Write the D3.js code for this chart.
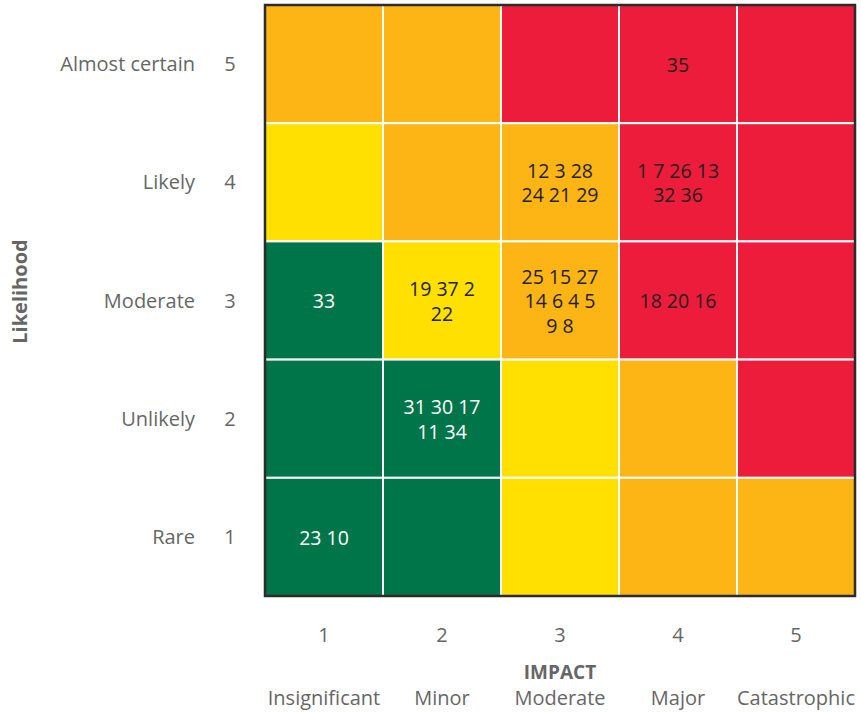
<!DOCTYPE html>
<html>
<head>
<meta charset="utf-8">
<script src="https://cdn.jsdelivr.net/npm/d3@7"></script>
<style>
  body { margin: 0; background: #fff; }
  text { font-family: "Open Sans", "Noto Sans", sans-serif; }
</style>
</head>
<body>
<script>
// categories
const impactLevels = [1, 2, 3, 4, 5];
const impactNames = ["Insignificant", "Minor", "Moderate", "Major", "Catastrophic"];
const likelihoodLevels = [5, 4, 3, 2, 1];
const likelihoodNames = ["Almost certain", "Likely", "Moderate", "Unlikely", "Rare"];

// risk rating per cell, rows = likelihood 5..1, cols = impact 1..5
const ratings = [
  ["O", "O", "R", "R", "R"],
  ["Y", "O", "O", "R", "R"],
  ["G", "Y", "O", "R", "R"],
  ["G", "G", "Y", "O", "R"],
  ["G", "G", "Y", "O", "O"]
];

// risk ids placed in cells
const risks = [
  {likelihood: 5, impact: 4, lines: ["35"]},
  {likelihood: 4, impact: 3, lines: ["12 3 28", "24 21 29"]},
  {likelihood: 4, impact: 4, lines: ["1 7 26 13", "32 36"]},
  {likelihood: 3, impact: 1, lines: ["33"]},
  {likelihood: 3, impact: 2, lines: ["19 37 2", "22"]},
  {likelihood: 3, impact: 3, lines: ["25 15 27", "14 6 4 5", "9 8"]},
  {likelihood: 3, impact: 4, lines: ["18 20 16"]},
  {likelihood: 2, impact: 2, lines: ["31 30 17", "11 34"]},
  {likelihood: 1, impact: 1, lines: ["23 10"]}
];

const colors = {G: "#00754a", Y: "#ffe000", O: "#fdb515", R: "#ed1c3a"};

var margin = {top: 5, right: 6, bottom: 116, left: 265},
    width = 861 - margin.left - margin.right,
    height = 712 - margin.top - margin.bottom;

var svg = d3.select("body").append("svg")
    .attr("width", 861)
    .attr("height", 712)
    .append("g")
    .attr("transform", "translate(" + margin.left + "," + margin.top + ")");

var x = d3.scaleBand().domain(impactLevels).range([0, width]);
var y = d3.scaleBand().domain(likelihoodLevels).range([0, height]);

var cells = [];
likelihoodLevels.forEach(function(l, i) {
  impactLevels.forEach(function(m, j) {
    cells.push({likelihood: l, impact: m, rating: ratings[i][j]});
  });
});

svg.selectAll(".cell")
    .data(cells)
    .enter().append("rect")
    .attr("class", "cell")
    .attr("x", d => x(d.impact))
    .attr("y", d => y(d.likelihood))
    .attr("width", x.bandwidth())
    .attr("height", y.bandwidth())
    .attr("fill", d => colors[d.rating])
    .attr("stroke", "#fff")
    .attr("stroke-width", 2);

// outer border
svg.append("rect")
    .attr("x", 0).attr("y", 0)
    .attr("width", width).attr("height", height)
    .attr("fill", "none")
    .attr("stroke", "#2b2b2b")
    .attr("stroke-width", 2.5);

var lineH = 24.5;
var riskText = svg.selectAll(".risk")
    .data(risks)
    .enter().append("text")
    .attr("class", "risk")
    .attr("text-anchor", "middle")
    .attr("font-size", "19.5px")
    .attr("fill", d => ratings[likelihoodLevels.indexOf(d.likelihood)][d.impact - 1] === "G" ? "#fff" : "#231f20");

riskText.selectAll("tspan")
    .data(d => d.lines.map((t, i) => ({t: t, i: i, n: d.lines.length, d: d})))
    .enter().append("tspan")
    .attr("x", d => x(d.d.impact) + x.bandwidth() / 2)
    .attr("y", d => y(d.d.likelihood) + y.bandwidth() / 2 + 1 + (d.i - (d.n - 1) / 2) * lineH)
    .attr("dy", "0.35em")
    .text(d => d.t);

// y labels
svg.selectAll(".ynum")
    .data(likelihoodLevels)
    .enter().append("text")
    .attr("x", -35)
    .attr("y", d => y(d) + y.bandwidth() / 2)
    .attr("dy", "0.35em")
    .attr("text-anchor", "middle")
    .attr("font-size", "20px")
    .attr("fill", "#666")
    .text(d => d);

svg.selectAll(".yname")
    .data(likelihoodNames)
    .enter().append("text")
    .attr("x", -70)
    .attr("y", (d, i) => y(likelihoodLevels[i]) + y.bandwidth() / 2)
    .attr("dy", "0.35em")
    .attr("text-anchor", "end")
    .attr("font-size", "20px")
    .attr("fill", "#666")
    .text(d => d);

svg.append("text")
    .attr("transform", "rotate(-90)")
    .attr("x", -height / 2 + 9)
    .attr("y", -245)
    .attr("dy", "0.35em")
    .attr("text-anchor", "middle")
    .attr("font-size", "20px")
    .attr("font-weight", "bold")
    .attr("fill", "#666")
    .text("Likelihood");

// x labels
svg.selectAll(".xnum")
    .data(impactLevels)
    .enter().append("text")
    .attr("x", d => x(d) + x.bandwidth() / 2)
    .attr("y", height + 39)
    .attr("dy", "0.35em")
    .attr("text-anchor", "middle")
    .attr("font-size", "20px")
    .attr("fill", "#666")
    .text(d => d);

svg.append("text")
    .attr("x", x(3) + x.bandwidth() / 2)
    .attr("y", height + 76)
    .attr("dy", "0.35em")
    .attr("text-anchor", "middle")
    .attr("font-size", "19px")
    .attr("font-weight", "bold")
    .attr("fill", "#666")
    .text("IMPACT");

svg.selectAll(".xname")
    .data(impactNames)
    .enter().append("text")
    .attr("x", (d, i) => x(impactLevels[i]) + x.bandwidth() / 2)
    .attr("y", height + 102)
    .attr("dy", "0.35em")
    .attr("text-anchor", "middle")
    .attr("font-size", "20px")
    .attr("fill", "#666")
    .text(d => d);
</script>
</body>
</html>
